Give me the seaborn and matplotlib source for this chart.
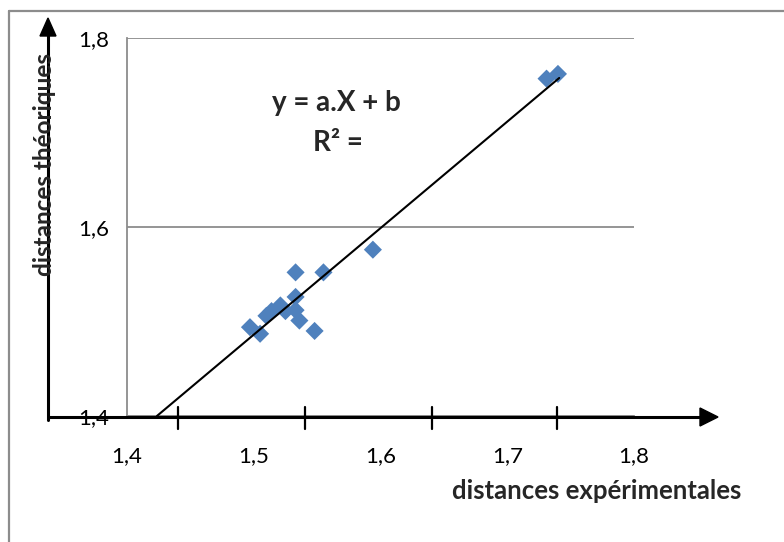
import matplotlib
matplotlib.use("Agg")
import matplotlib.pyplot as plt
import seaborn as sns
import pandas as pd
import numpy as np
from matplotlib.lines import Line2D

# ---- data ----
x_exp = [1.497, 1.505, 1.510, 1.514, 1.521, 1.525, 1.533, 1.533, 1.536, 1.548,
         1.533, 1.555, 1.594, 1.731, 1.740]
y_theo = [1.494, 1.487, 1.506, 1.511, 1.517, 1.511, 1.526, 1.512, 1.501, 1.490,
          1.552, 1.552, 1.576, 1.757, 1.762]
trend_x = [1.4236, 1.741]
trend_a = 1.127
trend_b = -0.2044
x_ticks = [1.4, 1.5, 1.6, 1.7, 1.8]
x_tick_labels = ["1,4", "1,5", "1,6", "1,7", "1,8"]
y_ticks = [1.4, 1.6, 1.8]
y_tick_labels = ["1,4", "1,6", "1,8"]

sns.set_theme(style="white")
plt.rcParams["font.family"] = ["Lato", "DejaVu Sans"]

W, H = 784, 542
fig = plt.figure(figsize=(W / 100, H / 100), dpi=100)

def fx(px):
    return px / W

def fy(py):
    return 1 - py / H

# chart frame (top and left visible)
fig.add_artist(Line2D([fx(9), fx(784)], [fy(11), fy(11)], color="#8c8c8c", lw=1.6))
fig.add_artist(Line2D([fx(9), fx(9)], [fy(11), fy(542)], color="#8c8c8c", lw=1.6))

ax = fig.add_axes([fx(127), fy(416), fx(634) - fx(127), fy(38) - fy(416)])
df = pd.DataFrame({"x": x_exp, "y": y_theo})
sns.scatterplot(data=df, x="x", y="y", ax=ax, marker="D", s=85,
                color="#4F81BD", edgecolor="none", linewidth=0, zorder=3)
tx = np.array(trend_x)
ax.plot(tx, trend_a * tx + trend_b, color="black", lw=1.5, zorder=4)

ax.set_xlim(1.4, 1.8)
ax.set_ylim(1.4, 1.8)
ax.set_xticks(x_ticks)
ax.set_xticklabels(x_tick_labels)
ax.set_yticks(y_ticks)
ax.set_yticklabels(y_tick_labels)
ax.set_xlabel("")
ax.set_ylabel("")
for s in ["top", "right"]:
    ax.spines[s].set_visible(False)
for s in ["left", "bottom"]:
    ax.spines[s].set_color("#8c8c8c")
    ax.spines[s].set_linewidth(1.3)
ax.grid(axis="y", color="#8c8c8c", lw=1.3)
ax.grid(axis="x", visible=False)
ax.tick_params(axis="both", direction="out", length=7, width=1.3, color="#8c8c8c",
               labelsize=16, labelcolor="black")
ax.tick_params(axis="x", pad=15)
ax.tick_params(axis="y", pad=6)

# equation text
fig.text(fx(336), fy(103), "y = a.X + b", fontsize=20, fontweight="bold",
         ha="center", va="center")
fig.text(fx(338), fy(143), "R² =", fontsize=20, fontweight="bold",
         ha="center", va="center")

# axis labels
fig.text(fx(597), fy(491), "distances expérimentales", fontsize=18.5,
         fontweight="bold", ha="center", va="center")
fig.text(fx(45), fy(165), "distances théoriques", fontsize=17.5,
         fontweight="bold", ha="center", va="center", rotation=90)

# hand-drawn arrows
fig.add_artist(Line2D([fx(48), fx(702)], [fy(417), fy(417)], color="black", lw=2.2))
fig.add_artist(Line2D([fx(48), fx(48)], [fy(420), fy(34)], color="black", lw=2.2))
head_x = plt.Polygon([[fx(700), fy(408)], [fx(718), fy(417)], [fx(700), fy(426)]],
                     closed=True, color="black", transform=fig.transFigure)
head_y = plt.Polygon([[fx(40), fy(36)], [fx(48), fy(18)], [fx(56), fy(36)]],
                     closed=True, color="black", transform=fig.transFigure)
fig.add_artist(head_x)
fig.add_artist(head_y)
for px in [178, 305, 432, 557]:
    fig.add_artist(Line2D([fx(px), fx(px)], [fy(407), fy(429)], color="black", lw=1.6))

fig.savefig("out.png", dpi=100)
